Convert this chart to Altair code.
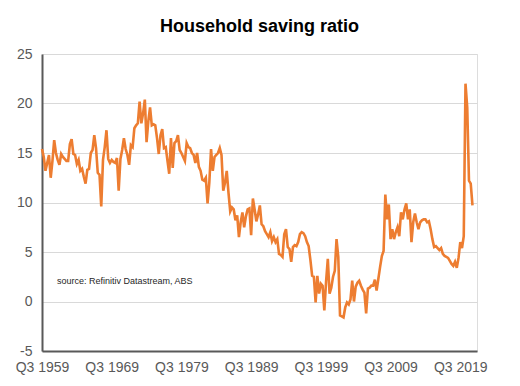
import altair as alt
import pandas as pd

# Quarterly household saving ratio (%), starting Q3 1959
vals_1959_1969 = [15.4, 14.6, 13.2, 14.0, 14.8, 12.5, 14.2, 16.3, 15.0, 14.3,
                  13.8, 14.9, 14.6, 14.4, 14.2, 14.2, 15.9, 16.4, 14.9, 14.8,
                  13.9, 14.3, 13.2, 13.4, 12.6, 11.9, 13.3, 13.4, 15.0, 15.3,
                  16.8, 15.5, 13.0, 12.8, 9.6, 14.3, 15.6, 17.3, 14.4, 14.0]
vals_1969_1979 = [14.3, 14.1, 14.0, 14.5, 11.2, 14.4, 15.3, 16.5, 15.4, 14.8,
                  13.8, 15.8, 15.6, 17.5, 17.8, 18.0, 20.2, 18.0, 19.0, 20.4,
                  16.1, 18.2, 19.6, 17.8, 17.9, 17.8, 16.5, 14.9, 16.8, 17.4,
                  15.5, 15.6, 14.2, 12.9, 16.5, 13.5, 16.0, 16.2, 16.8, 15.3]
vals_1979_1989 = [15.0, 14.6, 14.2, 16.0, 15.6, 15.5, 15.0, 14.8, 14.0, 15.0,
                  13.6, 13.2, 12.3, 12.2, 12.5, 9.9, 12.0, 15.4, 13.2, 14.6,
                  14.8, 15.0, 15.5, 14.8, 11.2, 12.0, 13.2, 11.0, 9.1, 9.5,
                  9.3, 8.2, 8.7, 6.5, 8.0, 9.0, 7.5, 8.6, 9.3, 9.4]
vals_1989_1999 = [6.7, 10.4, 9.3, 8.1, 8.8, 9.7, 7.8, 7.6, 7.1, 6.8,
                  6.5, 7.0, 6.1, 6.5, 6.0, 6.3, 4.8, 4.7, 4.5, 6.8,
                  7.3, 5.5, 5.3, 4.0, 5.5, 5.7, 5.6, 6.0, 6.8, 7.0,
                  6.9, 6.6, 6.0, 5.6, 4.2, 2.6, 2.5, -0.1, 2.6, 0.8]
vals_1999_2009 = [1.8, 1.6, -0.9, 2.0, 4.3, 0.8, 1.4, 2.5, 3.1, 6.3,
                  4.5, -1.4, -1.5, -1.6, -0.6, -0.1, -0.3, 0.2, 2.1, 0.0,
                  1.5, 1.9, 2.1, 1.6, 1.2, 0.9, -1.2, 1.3, 1.4, 1.6,
                  1.6, 2.2, 1.1, 2.3, 3.5, 4.6, 5.1, 10.8, 8.3, 9.8]
vals_2009_2019 = [6.3, 7.3, 6.3, 7.0, 7.5, 6.6, 9.0, 8.3, 9.3, 9.9,
                  8.3, 9.3, 6.0, 8.0, 8.9, 8.0, 7.3, 8.0, 8.2, 8.3,
                  8.3, 8.0, 8.1, 7.3, 6.3, 5.5, 5.6, 5.4, 5.2, 5.4,
                  4.8, 4.6, 4.5, 4.4, 4.1, 3.8, 3.6, 4.0, 3.4, 4.4]
vals_2019_2021 = [6.0, 5.4, 6.6, 22.0, 19.6, 12.2, 11.9, 9.7]

values = (vals_1959_1969 + vals_1969_1979 + vals_1979_1989 + vals_1989_1999
          + vals_1999_2009 + vals_2009_2019 + vals_2019_2021)

start_year, start_q = 1959, 3
labels = []
for i in range(len(values)):
    q = start_q - 1 + i
    labels.append(f"Q{q % 4 + 1} {start_year + q // 4}")

df = pd.DataFrame({"idx": list(range(len(values))), "quarter": labels, "ratio": values})

tick_idx = [0, 40, 80, 120, 160, 200, 240]
y_ticks = [-5, 0, 5, 10, 15, 20, 25]

note_df = pd.DataFrame({"idx": [8.6], "ratio": [2.1], "text": ["source: Refinitiv Datastream, ABS"]})

x_enc = alt.X("idx:Q", scale=alt.Scale(domain=[0, 249.6], nice=False, zero=False),
              axis=alt.Axis(values=tick_idx, title=None, grid=False, ticks=False,
                            labelExpr="'Q3 ' + (1959 + datum.value / 4)",
                            labelFont="Liberation Sans", labelFontSize=14,
                            labelColor="#595959", labelPadding=9,
                            domainColor="#595959", domainWidth=2, labelFlush=False))
y_enc = alt.Y("ratio:Q", scale=alt.Scale(domain=[-5, 25], nice=False),
              axis=alt.Axis(values=y_ticks, title=None, ticks=False,
                            labelExpr="'' + datum.value",
                            labelFont="Liberation Sans", labelFontSize=14,
                            labelColor="#595959", labelPadding=10,
                            gridColor="#d9d9d9", gridWidth=1,
                            domainColor="#595959", domainWidth=2))

line = alt.Chart(df).mark_line(color="#ED7D31", strokeWidth=2.6).encode(
    x=x_enc, y=y_enc, tooltip=["quarter:N", "ratio:Q"])

note = alt.Chart(note_df).mark_text(align="left", baseline="middle", fontSize=9,
                                    font="Liberation Sans", color="#262626").encode(
    x="idx:Q", y="ratio:Q", text="text:N")

chart = alt.layer(line, note).properties(
    width=435, height=297,
    title=alt.TitleParams("Household saving ratio", font="Liberation Sans",
                          fontSize=18, fontWeight="bold", color="#000000",
                          anchor="middle", offset=11),
    autosize=alt.AutoSizeParams(type="none"),
    padding={"left": 34, "top": 46, "right": 30, "bottom": 30},
).configure_view(stroke="#595959", strokeWidth=1.5).configure(background="white")

chart.save("out.html", embed_options={"renderer": "svg", "actions": False})
